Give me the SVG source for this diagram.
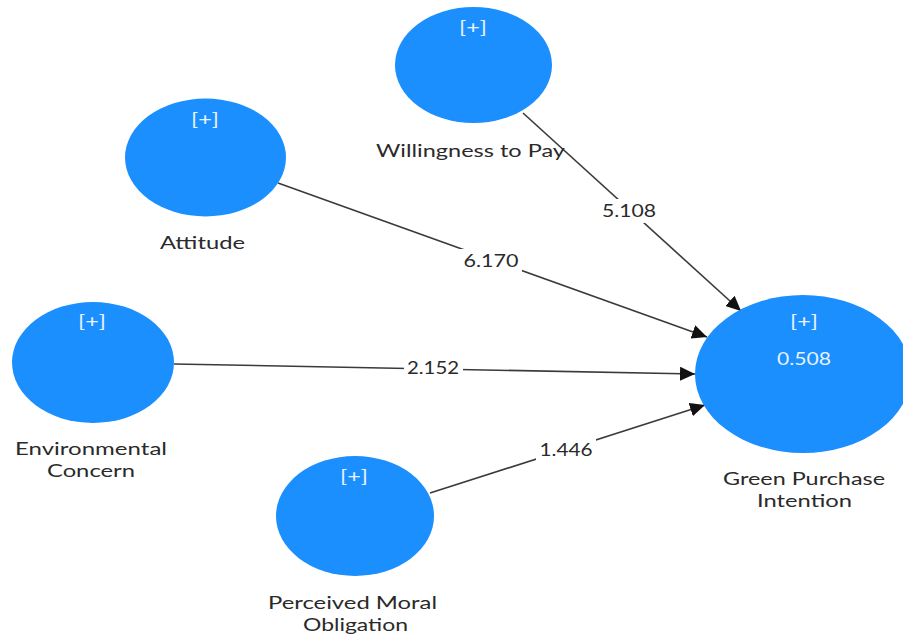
<svg xmlns="http://www.w3.org/2000/svg" width="903" height="637" viewBox="0 0 903 637">
<defs>
<style>
.node{fill:#1a8ffd;}
.plus{font-family:Lato,"Open Sans",sans-serif;font-size:18px;fill:#e6f2ff;text-anchor:middle;}
.lbl{font-family:Lato,"Open Sans",sans-serif;font-size:18px;fill:#2a2a2a;text-anchor:middle;}
.edge{stroke:#3a3a3a;stroke-width:1.6;fill:none;marker-end:url(#arr);}
.bg{fill:#ffffff;}
</style>
<marker id="arr" markerUnits="userSpaceOnUse" markerWidth="16" markerHeight="14" refX="15" refY="7" orient="auto">
<path d="M0,0 L15,7 L0,14 Z" fill="#111111"/>
</marker>
</defs>
<rect width="903" height="637" fill="#ffffff"/>
<g id="connectors">
<line class="edge" x1="523" y1="113" x2="741" y2="311"/>
<rect class="bg" x="599" y="199" width="60" height="24"/>
<text class="lbl" x="629" y="217" textLength="54" lengthAdjust="spacingAndGlyphs">5.108</text>
<line class="edge" x1="278" y1="183" x2="707" y2="337"/>
<rect class="bg" x="460" y="249" width="62" height="24"/>
<text class="lbl" x="491" y="267" textLength="55" lengthAdjust="spacingAndGlyphs">6.170</text>
<line class="edge" x1="174" y1="364" x2="695" y2="374"/>
<rect class="bg" x="404" y="356" width="59" height="24"/>
<text class="lbl" x="433" y="374" textLength="52" lengthAdjust="spacingAndGlyphs">2.152</text>
<line class="edge" x1="430" y1="493" x2="705" y2="405"/>
<rect class="bg" x="536" y="438" width="60" height="24"/>
<text class="lbl" x="566" y="456" textLength="53" lengthAdjust="spacingAndGlyphs">1.446</text>
</g>
<g id="willingness">
<ellipse class="node" cx="473.5" cy="65" rx="78.5" ry="58"/>
<text class="plus" x="473" y="34" textLength="28" lengthAdjust="spacingAndGlyphs">[+]</text>
<text class="lbl" x="470.5" y="157" textLength="189" lengthAdjust="spacingAndGlyphs">Willingness to Pay</text>
</g>
<g id="attitude">
<ellipse class="node" cx="205.5" cy="157.5" rx="80.5" ry="59"/>
<text class="plus" x="205" y="126" textLength="28" lengthAdjust="spacingAndGlyphs">[+]</text>
<text class="lbl" x="202.5" y="249" textLength="85" lengthAdjust="spacingAndGlyphs">Attitude</text>
</g>
<g id="environmental">
<ellipse class="node" cx="93" cy="362.5" rx="81" ry="60.5"/>
<text class="plus" x="92" y="328" textLength="28" lengthAdjust="spacingAndGlyphs">[+]</text>
<text class="lbl" x="91" y="455" textLength="152" lengthAdjust="spacingAndGlyphs">Environmental</text>
<text class="lbl" x="91" y="477" textLength="88" lengthAdjust="spacingAndGlyphs">Concern</text>
</g>
<g id="moral">
<ellipse class="node" cx="355" cy="516" rx="79" ry="60"/>
<text class="plus" x="354" y="483" textLength="28" lengthAdjust="spacingAndGlyphs">[+]</text>
<text class="lbl" x="352.5" y="609" textLength="169" lengthAdjust="spacingAndGlyphs">Perceived Moral</text>
<text class="lbl" x="355.5" y="631" textLength="105" lengthAdjust="spacingAndGlyphs">Obligation</text>
</g>
<g id="green">
<ellipse class="node" cx="803" cy="374" rx="108" ry="79"/>
<text class="plus" x="804" y="328" textLength="28" lengthAdjust="spacingAndGlyphs">[+]</text>
<text class="plus" x="804" y="365" textLength="54" lengthAdjust="spacingAndGlyphs">0.508</text>
<text class="lbl" x="804" y="485" textLength="162" lengthAdjust="spacingAndGlyphs">Green Purchase</text>
<text class="lbl" x="804.5" y="507" textLength="95" lengthAdjust="spacingAndGlyphs">Intention</text>
</g>
</svg>
